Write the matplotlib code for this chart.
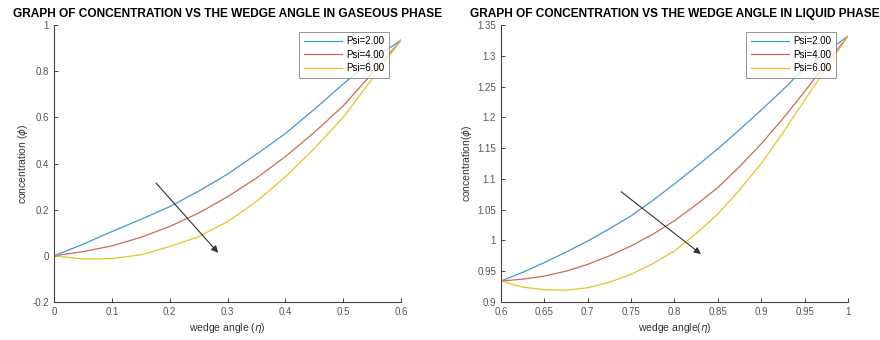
import matplotlib
matplotlib.use("Agg")
import matplotlib.pyplot as plt
from matplotlib.ticker import FormatStrFormatter, MultipleLocator

plt.rcParams['font.family'] = ['Liberation Sans', 'DejaVu Sans']
plt.rcParams['mathtext.fontset'] = 'dejavusans'

# ---- data: gaseous phase ----
eta_gas = [0.0, 0.05, 0.1, 0.15, 0.2, 0.25, 0.3, 0.35, 0.4, 0.45, 0.5, 0.55, 0.6]
gas_psi2 = [0.0, 0.05, 0.105, 0.158, 0.213, 0.28, 0.354, 0.44, 0.53, 0.635, 0.745, 0.85, 0.935]
gas_psi4 = [0.0, 0.018, 0.043, 0.08, 0.127, 0.185, 0.256, 0.337, 0.43, 0.535, 0.65, 0.79, 0.935]
gas_psi6 = [0.0, -0.014, -0.012, 0.004, 0.04, 0.083, 0.148, 0.235, 0.342, 0.465, 0.60, 0.767, 0.935]

# ---- data: liquid phase ----
eta_liq = [0.6, 0.625, 0.65, 0.675, 0.7, 0.725, 0.75, 0.775, 0.8, 0.825, 0.85,
           0.875, 0.9, 0.925, 0.95, 0.975, 1.0]
liq_psi2 = [0.934, 0.948, 0.964, 0.981, 0.999, 1.019, 1.040, 1.065, 1.092, 1.12,
            1.149, 1.18, 1.212, 1.245, 1.280, 1.307, 1.332]
liq_psi4 = [0.934, 0.937, 0.942, 0.95, 0.961, 0.975, 0.991, 1.01, 1.032, 1.058,
            1.086, 1.12, 1.157, 1.198, 1.242, 1.288, 1.332]
liq_psi6 = [0.934, 0.924, 0.920, 0.919, 0.923, 0.932, 0.945, 0.962, 0.983, 1.011,
            1.043, 1.082, 1.125, 1.175, 1.228, 1.28, 1.332]

labels = ['Psi=2.00', 'Psi=4.00', 'Psi=6.00']
colors = ['#3f9cc8', '#cc6a55', '#e8c22a']

# arrows (start, end) in data coords
gas_arrow = ((0.173, 0.325), (0.287, 0.004))
liq_arrow = ((0.736, 1.082), (0.833, 0.975))

fig = plt.figure(figsize=(8.8, 3.4), dpi=100)
ax1 = fig.add_axes([0.0614, 0.112, 0.3943, 0.814])
ax2 = fig.add_axes([0.5693, 0.112, 0.3943, 0.814])

gray = '#555555'
for ax in (ax1, ax2):
    for s in ('top', 'right'):
        ax.spines[s].set_visible(False)
    for s in ('left', 'bottom'):
        ax.spines[s].set_color('#444444')
        ax.spines[s].set_linewidth(0.8)
    ax.tick_params(direction='in', length=3, width=0.7, colors='#444444',
                   labelsize=7, labelcolor=gray)

for y, c, l in zip([gas_psi2, gas_psi4, gas_psi6], colors, labels):
    ax1.plot(eta_gas, y, color=c, lw=0.9, label=l)
ax1.set_xlim(0, 0.6)
ax1.set_ylim(-0.2, 1.0)
ax1.xaxis.set_major_locator(MultipleLocator(0.1))
ax1.yaxis.set_major_locator(MultipleLocator(0.2))
ax1.xaxis.set_major_formatter(FormatStrFormatter('%g'))
ax1.yaxis.set_major_formatter(FormatStrFormatter('%g'))
ax1.set_xlabel(r'wedge angle ($\eta$)', fontsize=7.5, color='#333333', labelpad=3)
ax1.set_ylabel(r'concentration ($\phi$)', fontsize=7.5, color='#333333', labelpad=2)
ax1.set_title('GRAPH OF CONCENTRATION VS THE WEDGE ANGLE IN GASEOUS PHASE',
              fontsize=8.6, fontweight='bold', pad=6)
ax1.annotate('', xy=gas_arrow[1], xytext=gas_arrow[0],
             arrowprops=dict(arrowstyle='-|>', color='#333333', lw=0.8,
                             mutation_scale=10))

for y, c, l in zip([liq_psi2, liq_psi4, liq_psi6], colors, labels):
    ax2.plot(eta_liq, y, color=c, lw=0.9, label=l)
ax2.set_xlim(0.6, 1.0)
ax2.set_ylim(0.9, 1.35)
ax2.xaxis.set_major_locator(MultipleLocator(0.05))
ax2.yaxis.set_major_locator(MultipleLocator(0.05))
ax2.xaxis.set_major_formatter(FormatStrFormatter('%g'))
ax2.yaxis.set_major_formatter(FormatStrFormatter('%g'))
ax2.set_xlabel(r'wedge angle($\eta$)', fontsize=7.5, color='#333333', labelpad=3)
ax2.set_ylabel(r'concentration($\phi$)', fontsize=7.5, color='#333333', labelpad=2)
ax2.set_title('GRAPH OF CONCENTRATION VS THE WEDGE ANGLE IN LIQUID PHASE',
              fontsize=8.6, fontweight='bold', pad=6)
ax2.annotate('', xy=liq_arrow[1], xytext=liq_arrow[0],
             arrowprops=dict(arrowstyle='-|>', color='#333333', lw=0.8,
                             mutation_scale=10))

for ax in (ax1, ax2):
    leg = ax.legend(loc='upper right', bbox_to_anchor=(0.965, 0.975), fontsize=7,
                    frameon=True, fancybox=False, edgecolor='#777777',
                    handlelength=4.0, handletextpad=0.4, borderpad=0.45,
                    labelspacing=0.35, borderaxespad=0.0)
    leg.get_frame().set_linewidth(0.7)

fig.savefig('out.png', dpi=100)
